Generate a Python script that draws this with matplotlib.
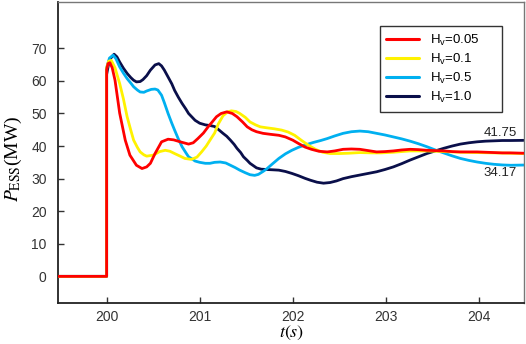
import matplotlib
matplotlib.use("Agg")
import matplotlib.pyplot as plt

# ---------------- data ----------------
labels = [r"H$_{\rm v}$=0.05", r"H$_{\rm v}$=0.1", r"H$_{\rm v}$=0.5", r"H$_{\rm v}$=1.0"]

t_red = [199.48, 200.0, 200.0, 200.015, 200.035, 200.06, 200.09, 200.14, 200.20, 200.25, 200.32, 200.38,
         200.43, 200.47, 200.52, 200.59, 200.66, 200.72, 200.79, 200.88, 200.93, 200.98, 201.04, 201.09,
         201.14, 201.18, 201.23, 201.29, 201.35, 201.40, 201.46, 201.51, 201.56, 201.61, 201.68, 201.76,
         201.85, 201.92, 202.00, 202.06, 202.13, 202.20, 202.28, 202.37, 202.45, 202.54, 202.63, 202.72,
         202.81, 202.90, 202.99, 203.08, 203.17, 203.26, 203.35, 203.44, 203.53, 203.62, 203.71, 203.80,
         203.89, 203.98, 204.07, 204.16, 204.25, 204.34, 204.48]
v_red = [0, 0, 63.5, 65.3, 65.6, 64.0, 60.2, 50.1, 41.8, 37.2, 34.1, 33.1,
         33.6, 34.7, 37.7, 41.3, 42.1, 41.9, 41.3, 40.6, 41.0, 42.3, 44.0, 45.9,
         47.6, 49.0, 50.0, 50.5, 50.0, 49.0, 47.4, 45.9, 45.0, 44.4, 43.9, 43.6,
         43.3, 42.8, 41.8, 40.8, 39.7, 39.0, 38.4, 38.2, 38.5, 39.0, 39.1, 39.0,
         38.6, 38.2, 38.3, 38.5, 38.8, 39.0, 38.9, 38.7, 38.6, 38.5, 38.3, 38.2,
         38.2, 38.2, 38.1, 38.0, 37.9, 37.9, 37.8]

t_yel = [199.48, 200.0, 200.0, 200.02, 200.05, 200.09, 200.14, 200.18, 200.22, 200.26, 200.29, 200.33,
         200.36, 200.40, 200.43, 200.50, 200.57, 200.63, 200.68, 200.73, 200.79, 200.84, 200.91, 200.97,
         201.02, 201.07, 201.11, 201.16, 201.20, 201.25, 201.30, 201.34, 201.39, 201.43, 201.49, 201.54,
         201.60, 201.65, 201.72, 201.80, 201.88, 201.95, 202.02, 202.09, 202.17, 202.25, 202.32, 202.40,
         202.50, 202.60, 202.72, 202.85, 202.95, 203.08, 203.26, 203.44, 203.62, 203.80, 203.98, 204.16,
         204.34, 204.48]
v_yel = [0, 0, 64.0, 66.0, 66.3, 64.0, 59.2, 54.5, 49.0, 44.8, 41.8, 39.6,
         38.2, 37.3, 36.9, 37.2, 38.3, 38.7, 38.4, 37.7, 36.9, 36.2, 35.9, 36.6,
         38.2, 40.0, 41.8, 44.0, 46.8, 49.3, 50.5, 50.8, 50.6, 50.0, 48.8, 47.4,
         46.5, 45.9, 45.6, 45.3, 44.9, 44.3, 43.3, 41.8, 40.2, 38.9, 38.1, 37.7,
         37.7, 37.8, 38.0, 37.9, 37.9, 38.1, 38.5, 38.5, 38.3, 38.1, 38.0, 37.9,
         37.8, 37.7]

t_cya = [199.48, 200.0, 200.0, 200.03, 200.07, 200.10, 200.14, 200.18, 200.22, 200.26, 200.29, 200.33,
         200.36, 200.40, 200.43, 200.48, 200.52, 200.55, 200.59, 200.62, 200.66, 200.70, 200.73, 200.77,
         200.81, 200.85, 200.88, 200.92, 200.95, 201.00, 201.06, 201.11, 201.16, 201.22, 201.28, 201.33,
         201.38, 201.43, 201.49, 201.54, 201.59, 201.63, 201.68, 201.72, 201.78, 201.85, 201.92, 201.99,
         202.06, 202.13, 202.22, 202.30, 202.37, 202.45, 202.54, 202.63, 202.72, 202.81, 202.90, 202.99,
         203.08, 203.17, 203.26, 203.35, 203.44, 203.53, 203.62, 203.71, 203.80, 203.89, 203.98, 204.07,
         204.16, 204.25, 204.34, 204.48]
v_cya = [0, 0, 64.0, 67.0, 67.9, 66.8, 64.3, 62.4, 60.7, 59.3, 58.2, 57.2,
         56.6, 56.5, 56.9, 57.4, 57.5, 57.2, 55.6, 53.3, 50.0, 47.0, 44.9, 42.2,
         39.8, 38.0, 36.7, 36.0, 35.4, 35.0, 34.7, 34.7, 35.0, 35.1, 34.8, 34.1,
         33.4, 32.6, 31.8, 31.2, 31.0, 31.3, 32.2, 33.0, 34.5, 36.2, 37.6, 38.7,
         39.6, 40.3, 41.1, 41.7, 42.3, 43.1, 43.9, 44.4, 44.6, 44.4, 43.9, 43.4,
         42.8, 42.2, 41.5, 40.7, 39.8, 38.8, 37.9, 37.0, 36.2, 35.6, 35.1, 34.7,
         34.4, 34.2, 34.1, 34.17]

t_nav = [199.48, 200.0, 200.0, 200.03, 200.08, 200.11, 200.14, 200.18, 200.22, 200.26, 200.29, 200.32,
         200.36, 200.39, 200.43, 200.47, 200.52, 200.56, 200.59, 200.62, 200.66, 200.70, 200.73, 200.77,
         200.81, 200.85, 200.88, 200.92, 200.95, 201.00, 201.06, 201.11, 201.16, 201.20, 201.25, 201.29,
         201.33, 201.37, 201.40, 201.44, 201.47, 201.51, 201.54, 201.58, 201.61, 201.66, 201.72, 201.79,
         201.85, 201.92, 201.99, 202.06, 202.13, 202.19, 202.26, 202.33, 202.40, 202.47, 202.54, 202.63,
         202.72, 202.81, 202.90, 202.99, 203.08, 203.17, 203.26, 203.35, 203.44, 203.53, 203.62, 203.71,
         203.80, 203.89, 203.98, 204.07, 204.16, 204.25, 204.34, 204.48]
v_nav = [0, 0, 62.0, 66.5, 68.2, 67.4, 65.8, 63.9, 62.3, 61.0, 60.2, 59.7,
         59.8, 60.4, 61.6, 63.3, 64.9, 65.3, 64.6, 63.3, 61.2, 59.1, 57.1, 55.0,
         53.1, 51.4, 50.0, 48.8, 47.9, 47.0, 46.5, 46.3, 46.0, 45.1, 43.9, 43.0,
         41.8, 40.5, 39.3, 38.0, 36.7, 35.6, 34.7, 33.9, 33.3, 32.9, 32.8, 32.7,
         32.6, 32.2, 31.6, 30.9, 30.1, 29.5, 28.9, 28.6, 28.8, 29.3, 30.0, 30.6,
         31.1, 31.6, 32.1, 32.8, 33.6, 34.6, 35.7, 36.7, 37.7, 38.5, 39.3, 40.0,
         40.6, 41.0, 41.3, 41.5, 41.6, 41.7, 41.7, 41.75]

end_labels = ["41.75", "34.17"]
end_label_pos = [(204.41, 44.0), (204.41, 31.7)]

x_ticks = [200, 201, 202, 203, 204]
y_ticks = [0, 10, 20, 30, 40, 50, 60, 70]

# ---------------- styling ----------------
plt.rcParams['font.family'] = ['Liberation Sans', 'DejaVu Sans']
plt.rcParams['mathtext.fontset'] = 'custom'
plt.rcParams['mathtext.rm'] = 'Liberation Sans'
plt.rcParams['mathtext.it'] = 'Liberation Sans:italic'

colors = ['#FF0000', '#FFF200', '#00B0F0', '#0A0F4A']

fig = plt.figure(figsize=(5.26, 3.44), dpi=100)
ax = fig.add_axes([0.110, 0.119, 0.8856, 0.875])

series = [(t_red, v_red), (t_yel, v_yel), (t_cya, v_cya), (t_nav, v_nav)]
handles = []
for (t, v), c, lab in zip(series, colors, labels):
    h, = ax.plot(t, v, color=c, lw=2.0, label=lab, solid_joinstyle='round', solid_capstyle='round')
    handles.append(h)
for z, h in zip([4, 3, 2, 1], handles):
    h.set_zorder(z)

for txt, (x, y) in zip(end_labels, end_label_pos):
    ax.text(x, y, txt, ha='right', va='center', fontsize=9.5, color='#222222')

ax.set_xlim(199.476, 204.48)
ax.set_ylim(-8.2, 84.2)
ax.set_xticks(x_ticks)
ax.set_yticks(y_ticks)
ax.tick_params(direction='in', length=4, width=1, labelsize=10, labelcolor='#333333', color='#333333')
ax.tick_params(axis='x', pad=5)
ax.tick_params(axis='y', pad=8)

for s in ['left', 'bottom']:
    ax.spines[s].set_color('#222222')
    ax.spines[s].set_linewidth(1.3)
for s in ['top', 'right']:
    ax.spines[s].set_color('#777777')
    ax.spines[s].set_linewidth(1.0)

ax.set_ylabel(r"$P_{\rm ESS}$(MW)", fontsize=14, family='Liberation Serif', math_fontfamily='stix')
ax.yaxis.set_label_coords(-0.072, 0.48)
ax.set_xlabel(r"$t(s)$", fontsize=13, family='Liberation Serif', math_fontfamily='stix')
ax.xaxis.set_label_coords(0.502, -0.068)

leg = ax.legend(loc='upper left', bbox_to_anchor=(0.691, 0.645, 0.262, 0.275), mode='expand',
                fontsize=9.5, frameon=True, fancybox=False, edgecolor='black',
                handlelength=2.5, handletextpad=0.8,
                labelspacing=0.3, borderpad=0.5, borderaxespad=0)
leg.get_frame().set_linewidth(1.0)
for line in leg.get_lines():
    line.set_linewidth(2.2)

fig.savefig('out.png', dpi=100)
